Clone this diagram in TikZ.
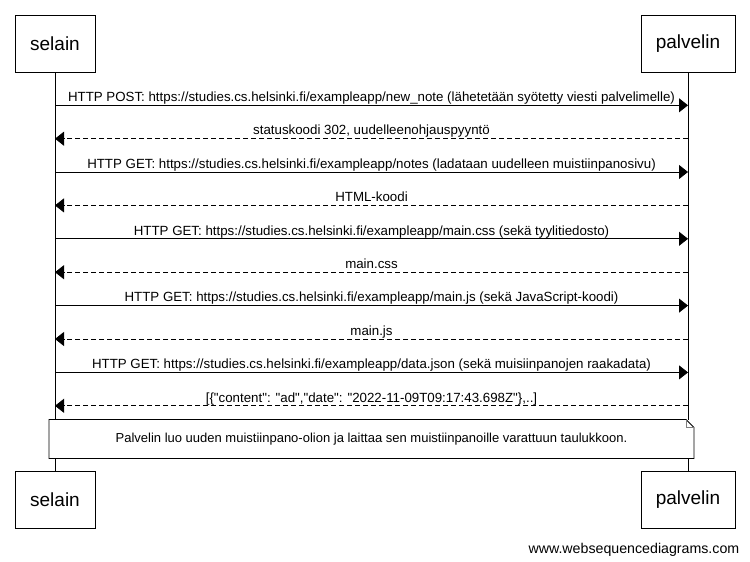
\documentclass[tikz,border=0pt]{standalone}
\usepackage{fontspec}
\setmainfont{Liberation Sans}
\usetikzlibrary{arrows.meta}
\begin{document}
\begin{tikzpicture}[x=1pt,y=-1pt,
  actor/.style={draw,line width=0.8pt,minimum width=80pt,minimum height=57pt,inner sep=0pt,font=\fontsize{19}{22}\selectfont},
  lifeline/.style={line width=0.8pt},
  msg/.style={line width=0.8pt,-{Triangle[length=9pt,width=14pt]}},
  reply/.style={msg,dash pattern=on 5pt off 3pt},
  lbl/.style={font=\fontsize{13.3}{15}\selectfont,inner sep=0pt,anchor=base}]
\useasboundingbox (0,0) rectangle (750,562);
\fill[white] (0,0) rectangle (750,562);
% actors
\node[actor] (s1) at (55,43.5) {selain};
\node[actor,minimum width=94pt] (p1) at (688,43.5) {palvelin};
\node[actor] (s2) at (55,499.5) {selain};
\node[actor,minimum width=94pt] (p2) at (688,499.5) {palvelin};
% note
\draw[line width=0.8pt,fill=white] (49,419.5) -- (686,419.5) -- (694,427.5) -- (694,458.5) -- (49,458.5) -- cycle;
\draw[line width=0.6pt,gray] (686,419.5) -- (686,427.5) -- (694,427.5);
\node[font=\fontsize{13}{15}\selectfont] (note) at (371.5,439) {Palvelin luo uuden muistiinpano-olion ja laittaa sen muistiinpanoille varattuun taulukkoon.};
% lifelines
\coordinate (sa) at (55,419.5);
\coordinate (pa) at (688,419.5);
\coordinate (sb) at (55,458.5);
\coordinate (pb) at (688,458.5);
\draw[lifeline] (s1.south) -- (sa);
\draw[lifeline] (p1.south) -- (pa);
\draw[lifeline] (sb) -- (s2.north);
\draw[lifeline] (pb) -- (p2.north);
% messages
\foreach \i/\y in {1/105.3,2/138.7,3/172,4/205.4,5/238.8,6/272.2,7/305.6,8/339,9/372.4,10/405.8}{
  \coordinate (L\i) at (55,\y);
  \coordinate (R\i) at (688,\y);
}
\draw[msg] (L1) -- (R1);
\node[lbl] at (371.5,101.5) {HTTP POST: https://studies.cs.helsinki.fi/exampleapp/new\_note (lähetetään syötetty viesti palvelimelle)};
\draw[reply] (R2) -- (L2);
\node[lbl] at (371.5,134.9) {statuskoodi 302, uudelleenohjauspyyntö};
\draw[msg] (L3) -- (R3);
\node[lbl] at (371.5,168.2) {HTTP GET: https://studies.cs.helsinki.fi/exampleapp/notes (ladataan uudelleen muistiinpanosivu)};
\draw[reply] (R4) -- (L4);
\node[lbl] at (371.5,201.6) {HTML-koodi};
\draw[msg] (L5) -- (R5);
\node[lbl] at (371.5,235) {HTTP GET: https://studies.cs.helsinki.fi/exampleapp/main.css (sekä tyylitiedosto)};
\draw[reply] (R6) -- (L6);
\node[lbl] at (371.5,268.4) {main.css};
\draw[msg] (L7) -- (R7);
\node[lbl] at (371.5,301.8) {HTTP GET: https://studies.cs.helsinki.fi/exampleapp/main.js (sekä JavaScript-koodi)};
\draw[reply] (R8) -- (L8);
\node[lbl] at (371.5,335.2) {main.js};
\draw[msg] (L9) -- (R9);
\node[lbl] at (371.5,368.6) {HTTP GET: https://studies.cs.helsinki.fi/exampleapp/data.json (sekä muisiinpanojen raakadata)};
\draw[reply] (R10) -- (L10);
\node[lbl] at (371.5,402) {[\{\textquotedbl content\textquotedbl: \textquotedbl ad\textquotedbl,\textquotedbl date\textquotedbl: \textquotedbl 2022-11-09T09:17:43.698Z\textquotedbl\},..]};
% watermark
\node[font=\fontsize{14.2}{16}\selectfont,anchor=base east,inner sep=0pt] (wm) at (739.5,553) {www.websequencediagrams.com};
\end{tikzpicture}
\end{document}
